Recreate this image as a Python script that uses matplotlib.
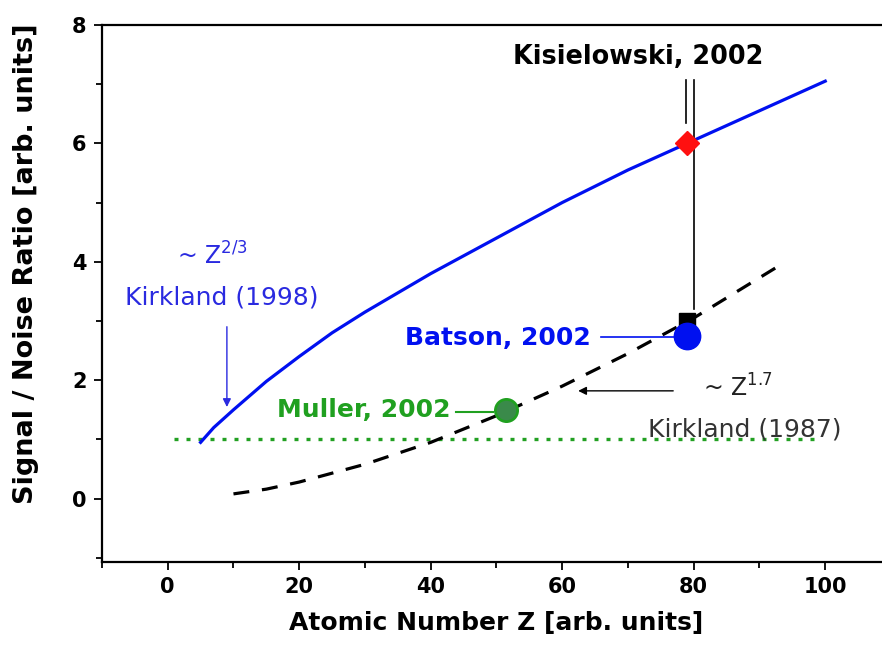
import matplotlib
matplotlib.use('Agg')
import matplotlib.pyplot as plt
from matplotlib.ticker import MultipleLocator

# values
z_k98 = [5, 7, 10, 15, 20, 25, 30, 40, 50, 60, 70, 80, 90, 100]
snr_k98 = [0.95, 1.2, 1.5, 1.98, 2.4, 2.8, 3.15, 3.8, 4.4, 5.0, 5.55, 6.05, 6.55, 7.05]

z_k87 = [10, 15, 20, 30, 40, 50, 60, 70, 80, 92.5]
snr_k87 = [0.08, 0.16, 0.28, 0.58, 0.95, 1.4, 1.9, 2.45, 3.05, 3.9]

z_limit = [1, 99]
snr_limit = [1, 1]

kis_z, kis_snr = 79, 6.0
sq_z, sq_snr = 79, 3.0
bat_z, bat_snr = 79, 2.75
mul_z, mul_snr = 51.5, 1.5

xticks = [0, 20, 40, 60, 80, 100]
yticks = [0, 2, 4, 6, 8]


def main():
    fig = plt.figure(figsize=(8.82, 6.55), dpi=100)
    ax = fig.add_axes([0.1156, 0.142, 0.8946, 0.82])

    ax.plot(z_limit, snr_limit, color='#22a022', lw=2.4, dashes=(1.2, 2.4))
    ax.plot(z_k98, snr_k98, color='#0010f0', lw=2.3)
    ax.plot(z_k87, snr_k87, color='black', lw=2.3, dashes=(5, 4))

    # Kisielowski leader lines
    ax.plot([80, 80], [7.07, 3.2], color='black', lw=1.2)
    ax.plot([78.8, 78.8], [7.07, 6.35], color='black', lw=1.2)

    ax.plot(sq_z, sq_snr, 's', color='black', ms=12)
    ax.plot(bat_z, bat_snr, 'o', color='#0010f0', ms=19)
    ax.plot(kis_z, kis_snr, 'D', color='#ff1010', ms=12)
    ax.plot(mul_z, mul_snr, 'o', color='#3a8a4a', mec='#20a020', mew=2, ms=16)

    ax.plot([65.9, 77], [2.73, 2.73], color='#0010f0', lw=1.2)
    ax.plot([43.8, 49.5], [1.47, 1.47], color='#20a020', lw=1.5)

    bold = dict(fontweight='bold')
    ax.text(71.5, 7.46, 'Kisielowski, 2002', color='black', fontsize=18.4, ha='center', va='center', **bold)
    ax.text(64.3, 2.72, 'Batson, 2002', color='#0010f0', fontsize=18, ha='right', va='center', **bold)
    ax.text(43, 1.49, 'Muller, 2002', color='#20a020', fontsize=18, ha='right', va='center', **bold)

    ax.text(6.8, 4.1, r'~ Z$^{2/3}$', color='#2a2ae0', fontsize=17, ha='center', va='center')
    ax.text(8.2, 3.4, 'Kirkland (1998)', color='#2a2ae0', fontsize=18, ha='center', va='center')
    ax.annotate('', xy=(9, 1.5), xytext=(9, 2.95),
                arrowprops=dict(arrowstyle='-|>', color='#2a2ae0', lw=1, mutation_scale=12))

    ax.text(86.7, 1.86, r'~ Z$^{1.7}$', color='#222222', fontsize=17, ha='center', va='center')
    ax.text(87.8, 1.16, 'Kirkland (1987)', color='#333333', fontsize=18, ha='center', va='center')
    ax.annotate('', xy=(62, 1.82), xytext=(77.3, 1.82),
                arrowprops=dict(arrowstyle='-|>', color='black', lw=1, mutation_scale=12))

    ax.set_xlim(-10, 110)
    ax.set_ylim(-1.07, 8)
    ax.set_xticks(xticks)
    ax.set_yticks(yticks)
    ax.xaxis.set_minor_locator(MultipleLocator(10))
    ax.yaxis.set_minor_locator(MultipleLocator(1))
    ax.tick_params(which='major', length=6, width=1.3, labelsize=15, pad=5)
    ax.tick_params(which='minor', length=4, width=1.3)
    for lab in ax.get_xticklabels() + ax.get_yticklabels():
        lab.set_fontweight('bold')
    for s in ['left', 'bottom', 'top']:
        ax.spines[s].set_linewidth(1.6)
    ax.spines['right'].set_visible(False)

    ax.set_xlabel('Atomic Number Z [arb. units]', fontsize=18, fontweight='bold', labelpad=10)
    ax.set_ylabel('Signal / Noise Ratio [arb. units]', fontsize=19.5, fontweight='bold')
    ax.yaxis.set_label_coords(-0.08, 0.556)

    fig.savefig('out.png', dpi=100)


if __name__ == '__main__':
    main()
